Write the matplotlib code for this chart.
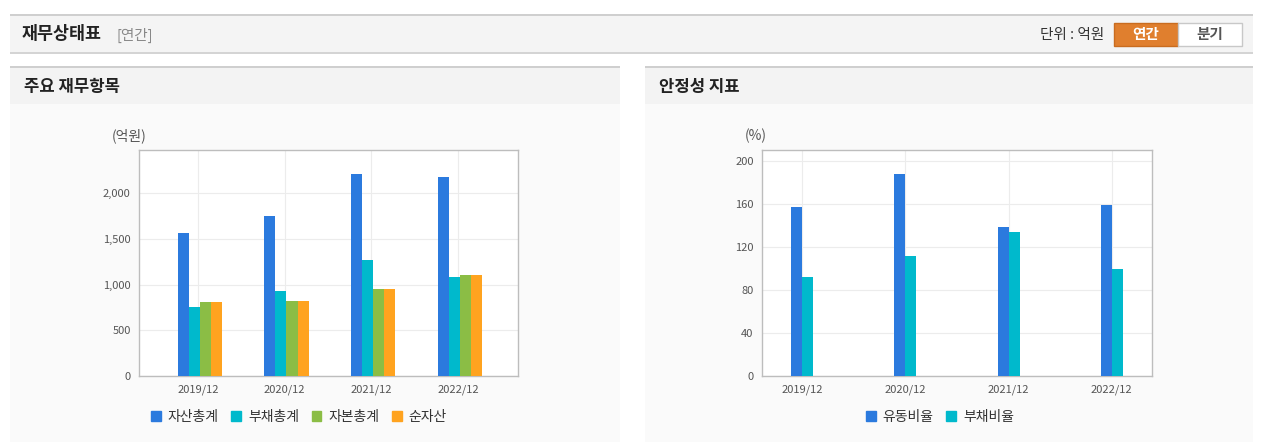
import numpy as np
import matplotlib
matplotlib.use('Agg')
import matplotlib.pyplot as plt
from matplotlib.patches import Rectangle, Patch

plt.rcParams['font.family'] = ['Noto Sans CJK KR', 'DejaVu Sans']

# data
periods = ['2019/12', '2020/12', '2021/12', '2022/12']
fin_names = ['자산총계', '부채총계', '자본총계', '순자산']
assets = [1565, 1755, 2207, 2180]
liabilities = [760, 935, 1265, 1085]
equity = [812, 826, 947, 1100]
net_assets = [812, 826, 947, 1100]

ratio_names = ['유동비율', '부채비율']
current_ratio = [157.5, 188.0, 139.0, 159.0]
debt_ratio = [92.3, 112.2, 134.3, 99.5]

W, H = 1263, 442
fig = plt.figure(figsize=(W / 100, H / 100), dpi=100)
fig.patch.set_facecolor('white')


def px_rect(x0, y0, x1, y1, **kw):
    fig.patches.append(Rectangle((x0 / W, 1 - y1 / H), (x1 - x0) / W, (y1 - y0) / H,
                                 transform=fig.transFigure, figure=fig, zorder=-5, **kw))


def px_text(x, y, s, **kw):
    fig.text(x / W, 1 - y / H, s, **kw)


def px_axes(x0, y0, x1, y1):
    return fig.add_axes([x0 / W, 1 - y1 / H, (x1 - x0) / W, (y1 - y0) / H])


# page header
px_rect(10, 15, 1253, 53, facecolor='#f4f4f4', edgecolor='none')
px_rect(10, 14, 1253, 16, facecolor='#cfcfcf', edgecolor='none')
px_rect(10, 52, 1253, 54, facecolor='#d4d4d4', edgecolor='none')
px_text(22, 34, '재무상태표', fontsize=12.5, fontweight='bold', color='#222', va='center')
px_text(117, 35, '[연간]', fontsize=10.5, color='#888', va='center')
px_text(1104, 35, '단위 : 억원', fontsize=10.5, color='#333', va='center', ha='right')
px_rect(1114, 23, 1178, 46, facecolor='#e07f2e', edgecolor='#c96c1f', linewidth=1)
px_rect(1178, 23, 1242, 46, facecolor='white', edgecolor='#c8c8c8', linewidth=1)
px_text(1146, 34, '연간', fontsize=10.5, fontweight='bold', color='white', va='center', ha='center')
px_text(1210, 34, '분기', fontsize=10.5, fontweight='bold', color='#555', va='center', ha='center')

# panels
for x0, x1, title in [(10, 620, '주요 재무항목'), (645, 1253, '안정성 지표')]:
    px_rect(x0, 104, x1, 442, facecolor='#fafafa', edgecolor='none')
    px_rect(x0, 67, x1, 104, facecolor='#f3f3f3', edgecolor='none')
    px_rect(x0, 66, x1, 68, facecolor='#cfcfcf', edgecolor='none')
    px_text(x0 + 14, 87, title, fontsize=12, fontweight='bold', color='#222', va='center')

colors4 = ['#2b7ade', '#00b9cc', '#8bbd45', '#ffa31f']
grid_c = '#ececec'
tick_c = '#555555'


def style_axes(ax):
    ax.set_facecolor('white')
    for sp in ax.spines.values():
        sp.set_color('#bdbdbd')
        sp.set_linewidth(1)
    ax.grid(True, color=grid_c, linewidth=0.8)
    ax.set_axisbelow(True)
    ax.tick_params(length=0, labelsize=8, labelcolor=tick_c, pad=6)


# left chart
ax1 = px_axes(139, 150, 518, 376)
style_axes(ax1)
x = np.arange(len(periods))
w = 0.128
series = [assets, liabilities, equity, net_assets]
for i, vals in enumerate(series):
    ax1.bar(x + (i - 1.5) * w + 0.02, vals, width=w, color=colors4[i], zorder=3)
ax1.set_xlim(-0.68, 3.69)
ax1.set_ylim(0, 2473)
ax1.set_yticks([0, 500, 1000, 1500, 2000])
ax1.set_yticklabels(['0', '500', '1,000', '1,500', '2,000'])
ax1.set_xticks(x)
ax1.set_xticklabels(periods)
px_text(112, 136, '(억원)', fontsize=10, color=tick_c, va='center')
h1 = [Patch(color=c) for c in colors4]
fig.legend(h1, fin_names, loc='center', bbox_to_anchor=(299 / W, 1 - 417 / H), ncol=4,
           frameon=False, fontsize=10, handlelength=0.7, handleheight=0.7,
           handletextpad=0.5, columnspacing=0.9, labelcolor='#333')

# right chart
ax2 = px_axes(762, 150, 1152, 376)
style_axes(ax2)
w2 = 0.107
ax2.bar(x - w2 / 2, current_ratio, width=w2, color=colors4[0], zorder=3)
ax2.bar(x + w2 / 2, debt_ratio, width=w2, color=colors4[1], zorder=3)
ax2.set_xlim(-0.39, 3.39)
ax2.set_ylim(0, 210.5)
ax2.set_yticks([0, 40, 80, 120, 160, 200])
ax2.set_xticks(x)
ax2.set_xticklabels(periods)
px_text(745, 136, '(%)', fontsize=10, color=tick_c, va='center')
h2 = [Patch(color=c) for c in colors4[:2]]
fig.legend(h2, ratio_names, loc='center', bbox_to_anchor=(940 / W, 1 - 417 / H), ncol=2,
           frameon=False, fontsize=10, handlelength=0.7, handleheight=0.7,
           handletextpad=0.5, columnspacing=0.9, labelcolor='#333')

fig.savefig('out.png', dpi=100)
